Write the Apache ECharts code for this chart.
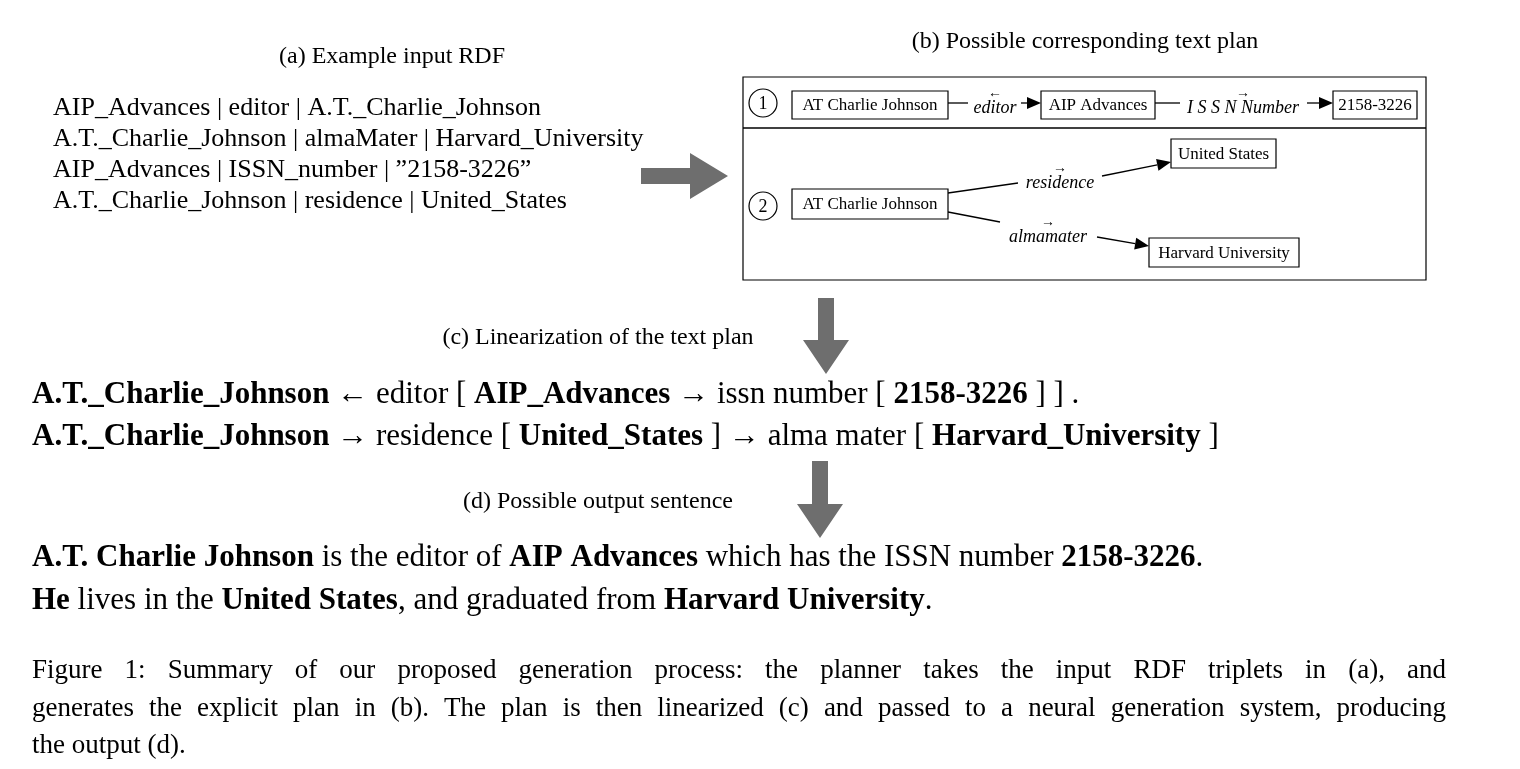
<!DOCTYPE html>
<html><head><meta charset="utf-8">
<script src="https://cdn.jsdelivr.net/npm/echarts@6/dist/echarts.min.js"></script>
<style>html,body{margin:0;background:#fff}#main{width:1520px;height:769px}</style>
</head><body><div id="main"></div>
<script>
var titles = [ '(a) Example input RDF', '(b) Possible corresponding text plan', '(c) Linearization of the text plan', '(d) Possible output sentence' ] ;
var rdfLines = [ 'AIP_Advances | editor | A.T._Charlie_Johnson', 'A.T._Charlie_Johnson | almaMater | Harvard_University',
                 'AIP_Advances | ISSN_number | \u201d2158-3226\u201d', 'A.T._Charlie_Johnson | residence | United_States' ] ;
var planNodes1 = [ 'AT Charlie Johnson', 'AIP Advances', '2158-3226' ] ;
var planEdges1 = [ 'editor', 'ISSNNumber' ] ;
var planNodes2 = [ 'AT Charlie Johnson', 'United States', 'Harvard University' ] ;
var planEdges2 = [ 'residence', 'almamater' ] ;
// segments: [text, bold]
var linear = [
  [ [ 'A.T._Charlie_Johnson', 1 ], [ ' \u2190 editor [ ', 0 ], [ 'AIP_Advances', 1 ], [ ' \u2192 issn number [ ', 0 ], [ '2158-3226', 1 ], [ ' ] ] .', 0 ] ],
  [ [ 'A.T._Charlie_Johnson', 1 ], [ ' \u2192 residence [ ', 0 ], [ 'United_States', 1 ], [ ' ] \u2192 alma mater [ ', 0 ], [ 'Harvard_University', 1 ], [ ' ]', 0 ] ]
] ;
var output = [
  [ [ 'A.T. Charlie Johnson', 1 ], [ ' is the editor of ', 0 ], [ 'AIP Advances', 1 ], [ ' which has the ISSN number ', 0 ], [ '2158-3226', 1 ], [ '.', 0 ] ],
  [ [ 'He', 1 ], [ ' lives in the ', 0 ], [ 'United States', 1 ], [ ', and graduated from ', 0 ], [ 'Harvard University', 1 ], [ '.', 0 ] ]
] ;
var caption = [ 'Figure 1:  Summary of our proposed generation process:  the planner takes the input RDF triplets in (a), and',
                'generates the explicit plan in (b).  The plan is then linearized (c) and passed to a neural generation system, producing',
                'the output (d).' ] ;

var FAMILY = 'Liberation Serif' ;
var els = [] ;
function txt( x, y, s, size, extra ){
   var st = { x: x, y: y, text: s, fontFamily: FAMILY, fontSize: size, fill: '#000', textAlign: 'left', textVerticalAlign: 'middle' } ;
   for( var k in extra ) st[k] = extra[k] ;
   els.push( { type: 'text', style: st } ) ;
}
function rich( x, y, segs, size ){
   var s = '' ;
   segs.forEach( function( g ){ s += '{' + ( g[1] ? 'b' : 'n' ) + '|' + g[0] + '}' ; } ) ;
   els.push( { type: 'text', style: { x: x, y: y, text: s, textVerticalAlign: 'middle',
      rich: { b: { fontFamily: FAMILY, fontSize: size, fontWeight: 'bold', fill: '#000' }, n: { fontFamily: FAMILY, fontSize: size, fill: '#000' } } } } ) ;
}
// spread words so the line reaches the right margin, like a justified paragraph
function justified( x1, x2, y, s, size ){
   var words = s.split( ' ' ).filter( function( w ){ return w.length ; } ) ;
   var ctx = document.createElement( 'canvas' ).getContext( '2d' ) ;
   ctx.font = size + 'px "' + FAMILY + '"' ;
   var total = 0 ;
   words.forEach( function( w ){ total += ctx.measureText( w ).width ; } ) ;
   var gap = ( x2 - x1 - total ) / ( words.length - 1 ) ;
   var x = x1 ;
   words.forEach( function( w ){ txt( x, y, w, size ) ; x += ctx.measureText( w ).width + gap ; } ) ;
}
function line( x1, y1, x2, y2 ){
   els.push( { type: 'line', shape: { x1: x1, y1: y1, x2: x2, y2: y2 }, style: { stroke: '#000', lineWidth: 1.3 } } ) ;
}
function arrowTo( x1, y1, x2, y2 ){
   var a = Math.atan2( y2 - y1, x2 - x1 ), L = 14, W = 6 ;
   var bx = x2 - L * Math.cos( a ), by = y2 - L * Math.sin( a ) ;
   line( x1, y1, bx, by ) ;
   els.push( { type: 'polygon', shape: { points: [ [ x2, y2 ], [ bx + W * Math.sin( a ), by - W * Math.cos( a ) ], [ bx - W * Math.sin( a ), by + W * Math.cos( a ) ] ] }, style: { fill: '#000' } } ) ;
}
function box( x1, x2, y1, y2, s ){
   els.push( { type: 'rect', shape: { x: x1, y: y1, width: x2 - x1, height: y2 - y1 }, style: { fill: '#fff', stroke: '#000', lineWidth: 1.2 } } ) ;
   txt( ( x1 + x2 ) / 2, ( y1 + y2 ) / 2 + 1, s, 17, { textAlign: 'center' } ) ;
}
function edgeLabel( x, y, s, dir ){
   txt( x, y, s, 18, { textAlign: 'center', fontStyle: 'italic' } ) ;
   txt( x, y - 15, dir < 0 ? '\u2190' : '\u2192', 14, { textAlign: 'center', fontWeight: 'bold' } ) ;
}
function circ( x, y, n ){
   els.push( { type: 'circle', shape: { cx: x, cy: y, r: 14 }, style: { fill: '#fff', stroke: '#000', lineWidth: 1.2 } } ) ;
   txt( x, y + 1, n, 18, { textAlign: 'center' } ) ;
}
function bigArrowRight( x1, x2, y ){
   els.push( { type: 'polygon', shape: { points: [ [ x1, y - 8 ], [ x2 - 38, y - 8 ], [ x2 - 38, y - 23 ], [ x2, y ], [ x2 - 38, y + 23 ], [ x2 - 38, y + 8 ], [ x1, y + 8 ] ] }, style: { fill: '#6e6e6e' } } ) ;
}
function bigArrowDown( x, y1, y2 ){
   els.push( { type: 'polygon', shape: { points: [ [ x - 8, y1 ], [ x + 8, y1 ], [ x + 8, y2 - 34 ], [ x + 23, y2 - 34 ], [ x, y2 ], [ x - 23, y2 - 34 ], [ x - 8, y2 - 34 ] ] }, style: { fill: '#6e6e6e' } } ) ;
}

// (a)
txt( 392, 57, titles[0], 24, { textAlign: 'center' } ) ;
rdfLines.forEach( function( s, i ){ txt( 53, 108 + i * 31, s, 26 ) ; } ) ;
bigArrowRight( 641, 728, 176 ) ;
// (b)
txt( 1085, 42, titles[1], 24, { textAlign: 'center' } ) ;
els.push( { type: 'rect', shape: { x: 743, y: 77, width: 683, height: 203 }, style: { fill: '#fff', stroke: '#000', lineWidth: 1.2 } } ) ;
line( 743, 128, 1426, 128 ) ;
circ( 763, 103, '1' ) ;
line( 948, 103, 968, 103 ) ; arrowTo( 1021, 103, 1041, 103 ) ;
line( 1155, 103, 1180, 103 ) ; arrowTo( 1307, 103, 1333, 103 ) ;
box( 792, 948, 91, 119, planNodes1[0] ) ;
box( 1041, 1155, 91, 119, planNodes1[1] ) ;
box( 1333, 1417, 91, 119, planNodes1[2] ) ;
edgeLabel( 995, 108, planEdges1[0], -1 ) ;
edgeLabel( 1243, 108, planEdges1[1].replace( 'ISSN', 'I S S N ' ), 1 ) ;
circ( 763, 206, '2' ) ;
line( 948, 193, 1018, 183 ) ; arrowTo( 1102, 176, 1171, 162 ) ;
line( 948, 212, 1000, 222 ) ; arrowTo( 1097, 237, 1149, 246 ) ;
box( 792, 948, 189, 219, planNodes2[0] ) ;
box( 1171, 1276, 139, 168, planNodes2[1] ) ;
box( 1149, 1299, 238, 267, planNodes2[2] ) ;
edgeLabel( 1060, 183, planEdges2[0], 1 ) ;
edgeLabel( 1048, 237, planEdges2[1], 1 ) ;
// (c)
bigArrowDown( 826, 298, 374 ) ;
txt( 598, 338, titles[2], 24, { textAlign: 'center' } ) ;
linear.forEach( function( segs, i ){ rich( 32, 395 + i * 42, segs, 31 ) ; } ) ;
// (d)
bigArrowDown( 820, 461, 538 ) ;
txt( 598, 502, titles[3], 24, { textAlign: 'center' } ) ;
output.forEach( function( segs, i ){ rich( 32, 558 + i * 43, segs, 31 ) ; } ) ;
justified( 32, 1446, 671, caption[0], 27 ) ;
justified( 32, 1446, 708.5, caption[1], 27 ) ;
txt( 32, 746, caption[2], 27 ) ;

var chart = echarts.init( document.getElementById( 'main' ) ) ;
chart.setOption( { backgroundColor: '#fff', animation: false, graphic: { elements: els } } ) ;
</script></body></html>
